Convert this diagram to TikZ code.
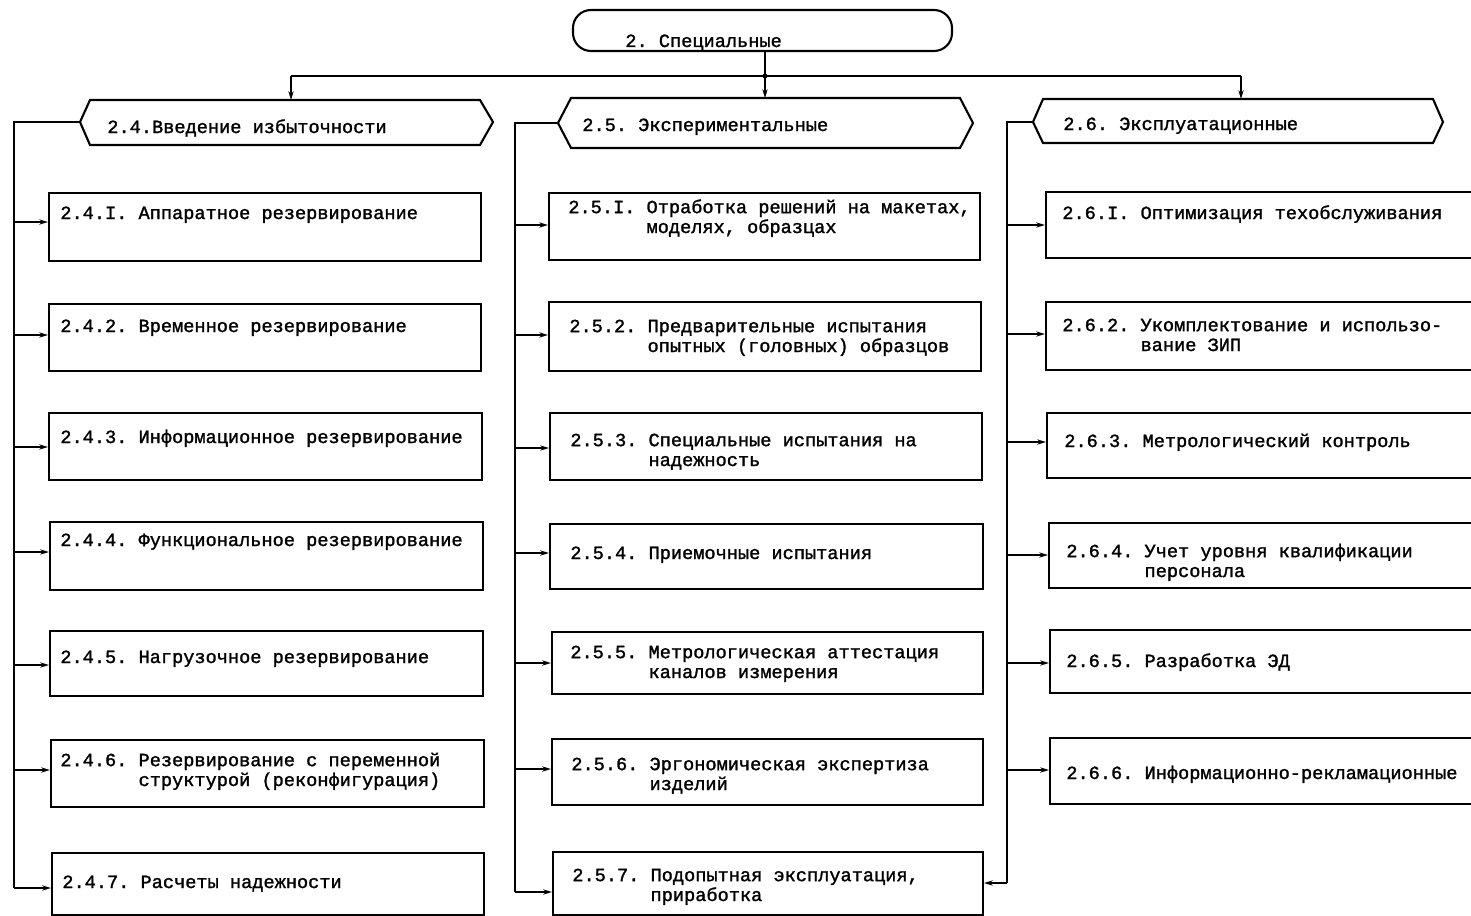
\documentclass[tikz,border=0pt]{standalone}
\usepackage{fontspec}
\newfontfamily\tw[FakeBold=1.5]{Liberation Mono}
\usetikzlibrary{arrows.meta,fit}
\newcommand\indt{\hspace*{4.2em}}
\frenchspacing
\begin{document}
\begin{tikzpicture}[x=0.02cm,y=-0.02cm,
  ln/.style={line width=1.1pt},
  arr/.style={line width=1.1pt,-{Stealth[length=5pt,width=3pt]}},
  box/.style={draw,line width=1.2pt,inner sep=0pt},
  hexs/.style={draw,line width=1.2pt,line join=miter},
  txt/.style={anchor=base west,inner sep=0pt,align=left,font=\tw\frenchspacing\fontsize{10.6pt}{11.3pt}\selectfont}]
\useasboundingbox (0,0) rectangle (1471,916);

% top box
\node[box,rounded corners=0.36cm,fit={(573,10)(952,51)}] (top) {};
\node[txt] (ttop) at (625,47) {2. Специальные};

% hexagons
\draw[hexs] (80,122) coordinate (h24w) -- (90,100) -- (480,100) -- (493,122) -- (480,145) -- (90,145) -- cycle;
\coordinate (h24t) at (291,100);
\node[txt] (th24) at (107,133) {2.4.Введение избыточности};

\draw[hexs] (558,123) coordinate (h25w) -- (571,98) -- (960,98) -- (973,123) -- (960,148) -- (571,148) -- cycle;
\coordinate (h25t) at (765,98);
\node[txt] (th25) at (582,131) {2.5. Экспериментальные};

\draw[hexs] (1033,122) coordinate (h26w) -- (1043,99) -- (1433,99) -- (1443,122) -- (1433,143) -- (1043,143) -- cycle;
\coordinate (h26t) at (1241,99);
\node[txt] (th26) at (1063,130) {2.6. Эксплуатационные};

% column 1 boxes
\node[box,fit={(49,193)(481,261)}] (b241) {};
\node[box,fit={(49,304)(481,371)}] (b242) {};
\node[box,fit={(49,413)(482,480)}] (b243) {};
\node[box,fit={(50,522)(483,590)}] (b244) {};
\node[box,fit={(50,631)(483,696)}] (b245) {};
\node[box,fit={(51,740)(484,807)}] (b246) {};
\node[box,fit={(52,853)(484,915)}] (b247) {};
\node[txt] (t241) at (60,219) {2.4.I. Аппаратное резервирование};
\node[txt] (t242) at (60,332) {2.4.2. Временное резервирование};
\node[txt] (t243) at (60,443) {2.4.3. Информационное резервирование};
\node[txt] (t244) at (60,546) {2.4.4. Функциональное резервирование};
\node[txt] (t245) at (60,663) {2.4.5. Нагрузочное резервирование};
\node[txt] (t246) at (60,786) {2.4.6. Резервирование с переменной\\\indt структурой (реконфигурация)};
\node[txt] (t247) at (62,888) {2.4.7. Расчеты надежности};

% column 2 boxes
\node[box,fit={(549,193)(980,260)}] (b251) {};
\node[box,fit={(549,302)(981,371)}] (b252) {};
\node[box,fit={(550,413)(982,480)}] (b253) {};
\node[box,fit={(550,524)(983,589)}] (b254) {};
\node[box,fit={(552,632)(983,694)}] (b255) {};
\node[box,fit={(552,739)(983,805)}] (b256) {};
\node[box,fit={(553,852)(983,915)}] (b257) {};
\node[txt] (t251) at (568,233) {2.5.I. Отработка решений на макетах,\\\indt моделях, образцах};
\node[txt] (t252) at (569,352) {2.5.2. Предварительные испытания\\\indt опытных (головных) образцов};
\node[txt] (t253) at (570,466) {2.5.3. Специальные испытания на\\\indt надежность};
\node[txt] (t254) at (570,559) {2.5.4. Приемочные испытания};
\node[txt] (t255) at (570,678) {2.5.5. Метрологическая аттестация\\\indt каналов измерения};
\node[txt] (t256) at (571,790) {2.5.6. Эргономическая экспертиза\\\indt изделий};
\node[txt] (t257) at (572,901) {2.5.7. Подопытная эксплуатация,\\\indt приработка};

% column 3 boxes
\node[box,fit={(1046,192)(1485,258)}] (b261) {};
\node[box,fit={(1046,302)(1485,370)}] (b262) {};
\node[box,fit={(1047,413)(1485,478)}] (b263) {};
\node[box,fit={(1049,523)(1485,588)}] (b264) {};
\node[box,fit={(1050,630)(1485,693)}] (b265) {};
\node[box,fit={(1050,738)(1485,804)}] (b266) {};
\node[txt] (t261) at (1062,219) {2.6.I. Оптимизация техобслуживания};
\node[txt] (t262) at (1062,351) {2.6.2. Укомплектование и использо-\\\indt вание ЗИП};
\node[txt] (t263) at (1064,447) {2.6.3. Метрологический контроль};
\node[txt] (t264) at (1066,577) {2.6.4. Учет уровня квалификации\\\indt персонала};
\node[txt] (t265) at (1066,667) {2.6.5. Разработка ЭД};
\node[txt] (t266) at (1066,779) {2.6.6. Информационно-рекламационные};

% top connectors
\coordinate (jc) at (765,76);
\draw[ln] (jc |- top.south) -- (jc);
\draw[arr] (jc) -- (h25t);
\draw[ln] (h24t |- jc) -- (h26t |- jc);
\draw[arr] (h24t |- jc) -- (h24t);
\draw[arr] (h26t |- jc) -- (h26t);
\fill (jc) circle (2.5);

% column 1 trunk
\coordinate (k1) at (14,122);
\draw[ln] (h24w) -- (k1) -- (14,888);
\foreach \b/\y in {b241/222,b242/335,b243/447,b244/552,b245/665,b246/770,b247/888}
  \draw[arr] (14,\y) -- (\b.west |- 14,\y);

% column 2 trunk
\coordinate (k2) at (515,123);
\draw[ln] (h25w) -- (k2) -- (515,892);
\foreach \b/\y in {b251/225,b252/335,b253/448,b254/553,b255/663,b256/769,b257/892}
  \draw[arr] (515,\y) -- (\b.west |- 515,\y);

% column 3 trunk
\coordinate (k3) at (1007,122);
\draw[ln] (h26w) -- (k3) -- (1007,883);
\foreach \b/\y in {b261/225,b262/334,b263/442,b264/555,b265/663,b266/770}
  \draw[arr] (1007,\y) -- (\b.west |- 1007,\y);
\draw[arr] (1007,883) -- (b257.east |- 1007,883);
\end{tikzpicture}
\end{document}
